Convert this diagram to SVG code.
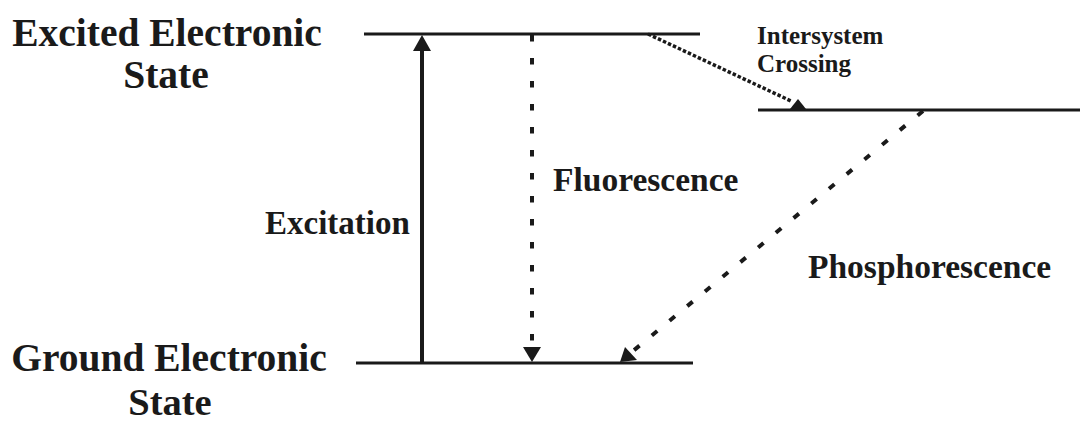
<svg xmlns="http://www.w3.org/2000/svg" width="1083" height="423" viewBox="0 0 1083 423">
<style>
.t{font-family:"Liberation Serif","Times New Roman",serif;font-weight:bold;fill:#1a1a1a}
.lvl{stroke:#1a1a1a;stroke-width:3.2;fill:none}
.ah{fill:#1a1a1a}
</style>
<rect width="1083" height="423" fill="#fff"/>
<g id="excited-state">
<line class="lvl" x1="364" y1="34" x2="700" y2="34"/>
<text class="t" font-size="39.5" text-anchor="middle"><tspan x="167" y="46">Excited Electronic</tspan><tspan x="166" y="88">State</tspan></text>
</g>
<g id="ground-state">
<line class="lvl" x1="356" y1="363" x2="693" y2="363"/>
<text class="t" x="169" y="371" font-size="39.5" text-anchor="middle">Ground Electronic</text>
<text class="t" x="170" y="414.5" font-size="38.5" text-anchor="middle">State</text>
</g>
<g id="triplet-state">
<line class="lvl" x1="758" y1="110" x2="1080" y2="110"/>
</g>
<g id="connectors">
<g id="excitation">
<line x1="422" y1="363" x2="422" y2="48" stroke="#1a1a1a" stroke-width="4"/>
<polygon class="ah" points="422,35 413,51 431,51"/>
</g>
<g id="fluorescence">
<line x1="532" y1="35" x2="532" y2="345" stroke="#1a1a1a" stroke-width="4" stroke-dasharray="6.5 16.5"/>
<polygon class="ah" points="532,362 523,347 541,347"/>
</g>
<g id="isc">
<line x1="648" y1="34" x2="791" y2="101" stroke="#1a1a1a" stroke-width="3.5" stroke-dasharray="3.5 2"/>
<polygon class="ah" points="798,99 790,109 806,109"/>
</g>
<g id="phosphorescence">
<line x1="923" y1="111" x2="633" y2="351" stroke="#1a1a1a" stroke-width="4" stroke-dasharray="7 16"/>
<polygon class="ah" points="620,362 625,347 637,360"/>
</g>
</g>
<g id="labels">
<text class="t" x="265" y="234" font-size="33">Excitation</text>
<text class="t" x="553" y="191" font-size="33.5">Fluorescence</text>
<text class="t" x="808" y="278" font-size="33.5">Phosphorescence</text>
<text class="t" font-size="25"><tspan x="757" y="44">Intersystem</tspan><tspan x="757" y="72">Crossing</tspan></text>
</g>
</svg>
